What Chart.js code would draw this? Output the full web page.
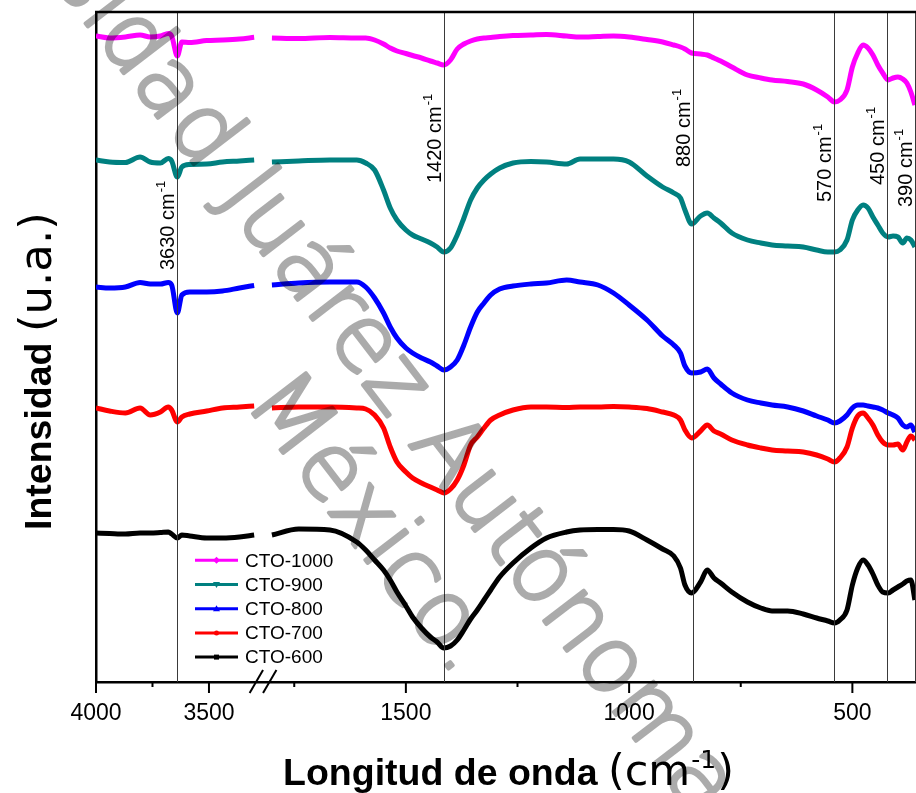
<!DOCTYPE html>
<html><head><meta charset="utf-8">
<script src="https://cdn.jsdelivr.net/npm/chart.js@4.4.1/dist/chart.umd.min.js"></script>
<style>html,body{margin:0;padding:0;background:#fff}canvas{display:block}</style>
</head><body>
<canvas id="c" width="916" height="793" style="width:916px;height:793px"></canvas>
<script>
// ---------------- data (wavenumbers in cm^-1, intensity in arbitrary units) ----------------
const SERIES_LABELS = ['CTO-1000', 'CTO-900', 'CTO-800', 'CTO-700', 'CTO-600'];

const LEFT_WAVENUMBERS = [4000, 3940, 3870, 3805, 3760, 3715, 3680, 3665, 3640, 3620, 3585, 3510, 3440, 3365, 3300];
const RIGHT_WAVENUMBERS = [1800, 1740, 1670, 1610, 1590, 1570, 1550, 1535, 1520, 1500,
  1485, 1465, 1445, 1430, 1415, 1400, 1385, 1370, 1355, 1340, 1325, 1310, 1290, 1260, 1220,
  1185, 1140, 1110, 1070, 1035, 1000, 960, 925, 900, 885, 875, 860, 840, 825, 810,
  795, 770, 735, 705, 680, 645, 610, 580, 555, 540, 528, 512, 500, 488, 476,
  465, 454, 443, 432, 420, 409, 398, 387, 378, 369, 360];

const CTO1000_LEFT = [646, 644, 645, 647, 645, 646, 648.5, 646, 626, 640, 639.5, 641.5, 642, 643, 644.7];
const CTO1000_RIGHT = [644, 643.5, 644.5, 644, 644, 642, 638, 634, 631, 628.5, 626.5, 624, 621, 619, 617, 622, 633, 638, 641, 643,
  644, 644.5, 645.5, 646.5, 647, 647.5, 646, 645, 645.5, 646, 645, 642.5, 640, 637, 635, 633, 629, 628, 627, 624,
  621, 615, 607, 604, 602, 600.5, 598, 592, 585, 580, 582, 592, 615, 629, 637, 634, 627, 617, 609, 602,
  604, 605, 603, 599, 590, 577];

const CTO900_LEFT = [522, 520, 519.5, 525, 520, 519, 523.5, 521, 505, 515, 517.5, 518, 520, 521, 522];
const CTO900_RIGHT = [520, 521, 522, 522, 519, 512, 492, 474, 462, 452, 447, 443, 439, 435, 430, 434, 447, 464, 482, 494,
  502, 508, 514, 519, 520.5, 520, 518, 523, 523, 523, 520, 506, 495, 489, 484, 472, 458, 466, 469, 464,
  459, 449, 442, 439, 437, 436, 435, 432, 430, 430, 432, 442, 462, 472, 477, 474, 465, 457, 449, 445,
  446, 445, 439, 444, 442, 435];

const CTO800_LEFT = [395, 394, 395, 399.5, 398, 398, 399.5, 397, 369, 387, 390, 390, 391, 394, 396.5];
const CTO800_RIGHT = [397, 399, 400, 400, 395, 384, 369, 355, 344, 334, 329, 324, 320, 316, 312, 315, 322, 337, 355, 370,
  379, 387, 393, 396, 398, 399, 402, 400, 397, 389, 377, 362, 346, 337, 329, 316, 309, 310, 313, 304,
  298, 289, 282, 279, 277, 275, 271, 266, 262, 259, 261, 267, 274, 277, 277, 276, 275, 274, 272, 269,
  267, 264, 257, 255, 257, 250];

const CTO700_LEFT = [274, 271, 269, 274, 267, 270, 275, 272, 260, 265, 268, 271, 274, 275, 276];
const CTO700_RIGHT = [274, 275, 275, 274, 273, 267, 254, 235, 220, 210, 204, 199, 195, 192, 189, 193, 202, 217, 237, 245,
  254, 262, 267, 272, 275, 275, 274.5, 275, 275, 275.5, 275, 273.5, 270, 267, 262, 252, 244, 251, 257, 251,
  248, 242, 237, 234, 232, 231, 230, 227, 223, 220, 224, 235, 254, 266, 269, 264, 257, 247, 240, 237,
  237, 238, 232, 240, 246, 242];

const CTO600_LEFT = [149, 148.5, 148, 149, 149, 149.5, 150, 148, 144, 147, 146, 144, 144, 145, 147];
const CTO600_RIGHT = [147, 153, 152, 140, 132, 122, 112, 102, 90, 76, 65, 54, 45, 40, 34, 36, 42, 52, 63, 72,
  82, 92, 105, 119, 134, 144, 150, 152, 152.5, 152.5, 151, 142, 133, 126, 114, 97, 89, 100, 112, 104,
  99, 90, 80, 74, 71, 71, 68, 64, 61, 59, 62, 72, 97, 114, 122, 117, 108, 97, 90, 89,
  92, 95, 98, 101, 102, 82];

const X_TICKS = [4000, 3750, 3500, 1750, 1500, 1250, 1000, 750, 500];
const X_TICK_LABELS = ['4000', '', '3500', '', '1500', '', '1000', '', '500'];

const MARKER_WAVENUMBERS = [3640, 1415, 858, 541, 423, 360];
const MARKER_LABELS = ['3630', '1420', '880', '570', '450', '390'];

// ---------------- styles / layout ----------------
const COLORS = ['#ff00ff', '#008080', '#0000ff', '#ff0000', '#000000'];
const MARKER_SHAPES = ['diamond', 'triDown', 'triUp', 'circle', 'square'];
const MARKER_LABEL_BOTTOM = [270, 183, 167, 202, 185, 207];
const FONT = '"Liberation Sans", Arial, Helvetica, sans-serif';
const WIDE = '"DejaVu Sans", Verdana, sans-serif';

// broken axis: 4000-3300 (compressed) | break | 1800-360
const LEFT_RATIO = 0.506, RIGHT_OFFSET = 394, X_MAX = 1836.5;
function toU(w) { return w > 2500 ? (4000 - w) * LEFT_RATIO : RIGHT_OFFSET + (1800 - w); }
const BREAK_U = (toU(3300) + toU(1800)) / 2;

function buildPoints(left, right) {
  const pts = LEFT_WAVENUMBERS.map((w, i) => ({ x: toU(w), y: left[i] }));
  pts.push({ x: BREAK_U, y: null });
  RIGHT_WAVENUMBERS.forEach((w, i) => pts.push({ x: toU(w), y: right[i] }));
  return pts;
}
const SERIES_DATA = [
  buildPoints(CTO1000_LEFT, CTO1000_RIGHT),
  buildPoints(CTO900_LEFT, CTO900_RIGHT),
  buildPoints(CTO800_LEFT, CTO800_RIGHT),
  buildPoints(CTO700_LEFT, CTO700_RIGHT),
  buildPoints(CTO600_LEFT, CTO600_RIGHT)
];

function drawMarker(ctx, shape, x, y, r, color) {
  ctx.fillStyle = color;
  ctx.beginPath();
  if (shape === 'circle') { ctx.arc(x, y, r, 0, Math.PI * 2); }
  else if (shape === 'square') { ctx.rect(x - r, y - r, 2 * r, 2 * r); }
  else if (shape === 'diamond') { ctx.moveTo(x, y - r - 1); ctx.lineTo(x + r + 1, y); ctx.lineTo(x, y + r + 1); ctx.lineTo(x - r - 1, y); ctx.closePath(); }
  else if (shape === 'triUp') { ctx.moveTo(x, y - r - 1); ctx.lineTo(x + r + 1, y + r); ctx.lineTo(x - r - 1, y + r); ctx.closePath(); }
  else if (shape === 'triDown') { ctx.moveTo(x, y + r + 1); ctx.lineTo(x + r + 1, y - r); ctx.lineTo(x - r - 1, y - r); ctx.closePath(); }
  ctx.fill();
}

function drawRuns(ctx, runs, x, y) {
  let cx = x;
  runs.forEach(r => {
    ctx.font = r.font;
    ctx.fillText(r.text, cx, y + (r.dy || 0));
    cx += ctx.measureText(r.text).width + (r.gap || 0);
  });
}

const decor = {
  id: 'decor',
  afterDatasetsDraw(chart) {
    const { ctx, chartArea: a, scales: { x } } = chart;
    ctx.save();
    MARKER_WAVENUMBERS.forEach((w, i) => {
      const px = Math.round(x.getPixelForValue(toU(w))) + 0.5;
      ctx.strokeStyle = '#3a3a3a';
      ctx.lineWidth = 1;
      ctx.beginPath(); ctx.moveTo(px, a.top); ctx.lineTo(px, a.bottom); ctx.stroke();
      ctx.save();
      ctx.translate(px - 4, MARKER_LABEL_BOTTOM[i]);
      ctx.rotate(-Math.PI / 2);
      ctx.fillStyle = '#000';
      ctx.textBaseline = 'alphabetic';
      ctx.textAlign = 'left';
      drawRuns(ctx, [
        { text: MARKER_LABELS[i] + ' cm', font: '20px ' + FONT, gap: 1 },
        { text: '-1', font: '13px ' + FONT, dy: -9 }
      ], 0, 0);
      ctx.restore();
    });
    ctx.strokeStyle = '#000';
    ctx.lineWidth = 2.5;
    ctx.beginPath(); ctx.moveTo(a.left - 1, a.top); ctx.lineTo(a.right, a.top); ctx.stroke();
    ctx.lineWidth = 2;
    X_TICKS.forEach((w, i) => {
      const px = x.getPixelForValue(toU(w));
      const len = X_TICK_LABELS[i] ? 11 : 5;
      ctx.beginPath(); ctx.moveTo(px, a.bottom); ctx.lineTo(px, a.bottom + len); ctx.stroke();
    });
    const bx = x.getPixelForValue(BREAK_U);
    [-6.7, 6.7].forEach(off => {
      ctx.beginPath();
      ctx.moveTo(bx + off - 6.7, a.bottom + 11);
      ctx.lineTo(bx + off + 6.7, a.bottom - 12);
      ctx.stroke();
    });
    ctx.restore();
  },
  afterDraw(chart) {
    const { ctx, width, height } = chart;
    ctx.save();
    ctx.fillStyle = '#000';
    ctx.textBaseline = 'alphabetic';
    ctx.textAlign = 'left';
    // x title
    drawRuns(ctx, [
      { text: 'Longitud de onda ', font: 'bold 37.5px ' + FONT },
      { text: '(cm', font: '43px ' + WIDE, gap: 1 },
      { text: '-1', font: '25px ' + WIDE, dy: -17, gap: 1 },
      { text: ')', font: '43px ' + WIDE }
    ], 283, 785);
    // y title
    ctx.save();
    ctx.translate(51, 530);
    ctx.rotate(-Math.PI / 2);
    drawRuns(ctx, [
      { text: 'Intensidad ', font: 'bold 37.5px ' + FONT },
      { text: '(u.a.)', font: '45px ' + WIDE }
    ], 0, 0);
    ctx.restore();
    // legend
    chart.data.datasets.forEach((ds, i) => {
      const y = 560.3 + i * 24.2;
      ctx.strokeStyle = ds.borderColor;
      ctx.lineWidth = 3;
      ctx.beginPath(); ctx.moveTo(195, y); ctx.lineTo(238, y); ctx.stroke();
      drawMarker(ctx, MARKER_SHAPES[i], 216.5, y, 2.5, ds.borderColor);
      ctx.fillStyle = '#000';
      ctx.font = '19px ' + FONT;
      ctx.textBaseline = 'middle';
      ctx.fillText(ds.label, 245, y + 1);
    });
    ctx.restore();
    // watermark (rendered opaque offscreen, then composited translucently)
    const off = document.createElement('canvas');
    off.width = width; off.height = height;
    const o = off.getContext('2d');
    const fs = 92, ang = 52.5 * Math.PI / 180;
    o.fillStyle = '#000'; o.strokeStyle = '#000';
    o.lineWidth = 3.6; o.lineJoin = 'round';
    o.font = '200 ' + fs + 'px "DejaVu Sans", sans-serif';
    o.textBaseline = 'alphabetic';
    const put = (text, align) => { o.textAlign = align; o.fillText(text, 0, fs * 0.25); o.strokeText(text, 0, fs * 0.25); };
    o.save(); o.translate(236, 182); o.rotate(ang);
    put('Universidad ', 'right'); put('Juárez Autónoma de Tabasco', 'left');
    o.restore();
    o.save(); o.translate(262, 388); o.rotate(ang);
    put('México.', 'left');
    o.restore();
    ctx.save();
    ctx.globalAlpha = 0.33;
    ctx.drawImage(off, 0, 0);
    ctx.restore();
  }
};

new Chart(document.getElementById('c'), {
  type: 'line',
  data: {
    datasets: SERIES_LABELS.map((label, i) => ({
      label,
      data: SERIES_DATA[i],
      borderColor: COLORS[i],
      backgroundColor: COLORS[i],
      borderWidth: 5,
      pointRadius: 0,
      fill: false,
      spanGaps: false,
      cubicInterpolationMode: 'monotone',
      borderJoinStyle: 'round',
      borderCapStyle: 'butt'
    }))
  },
  options: {
    responsive: false,
    animation: false,
    devicePixelRatio: 1,
    layout: { padding: { left: 96, top: 12, right: 0, bottom: 0 } },
    plugins: { legend: { display: false }, tooltip: { enabled: false } },
    scales: {
      x: {
        type: 'linear', min: 0, max: X_MAX,
        afterBuildTicks: s => { s.ticks = X_TICKS.map(w => ({ value: toU(w) })); },
        afterFit: s => { s.height = 111; },
        ticks: {
          autoSkip: false, maxRotation: 0, minRotation: 0, color: '#000', padding: 7,
          font: { family: FONT, size: 23 },
          callback: (v, i) => X_TICK_LABELS[i]
        },
        grid: { display: true, drawOnChartArea: false, drawTicks: true, tickLength: 11, tickColor: 'rgba(0,0,0,0)' },
        border: { display: true, color: '#000', width: 2.5 }
      },
      y: {
        min: 0, max: 670,
        afterFit: s => { s.width = 0; },
        ticks: { display: false },
        grid: { display: false, drawTicks: false },
        border: { display: true, color: '#000', width: 2.5 }
      }
    }
  },
  plugins: [decor]
});
</script>
</body></html>
